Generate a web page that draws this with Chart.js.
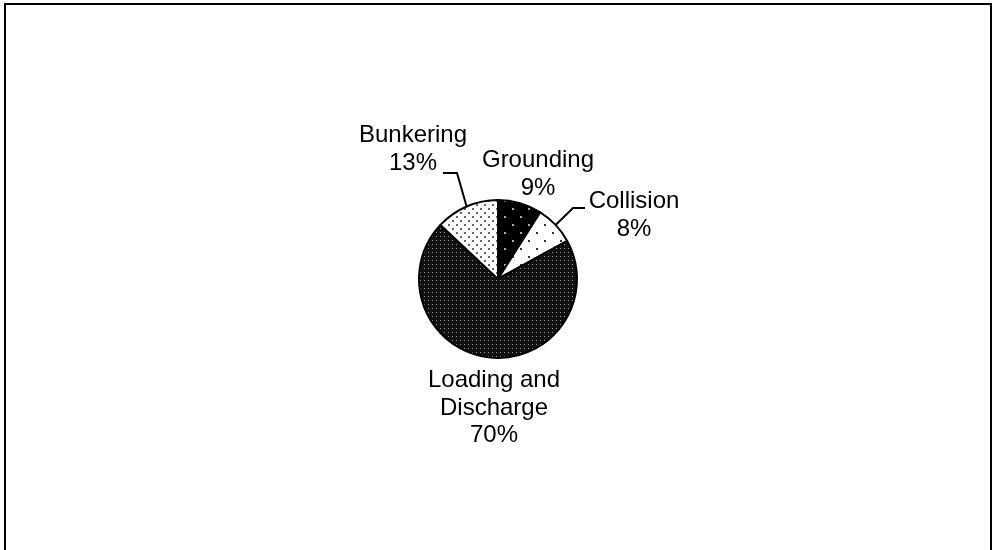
<!DOCTYPE html>
<html>
<head>
<meta charset="utf-8">
<script src="https://cdn.jsdelivr.net/npm/chart.js@4/dist/chart.umd.min.js"></script>
<style>
  html, body { margin: 0; padding: 0; background: #fff; }
  #wrap { position: relative; width: 995px; height: 550px; overflow: hidden; }
  #frame { position: absolute; left: 4px; top: 3px; width: 984px; height: 560px;
           border: 2px solid #000; border-bottom: none; box-sizing: content-box; }
  canvas { position: absolute; left: 0; top: 0; }
</style>
</head>
<body>
<div id="wrap">
  <div id="frame"></div>
  <canvas id="graph" width="995" height="550"></canvas>
</div>
<script>
// dados do gráfico (sentido horário a partir do topo)
const categorias = ['Grounding', 'Collision', 'Loading and Discharge', 'Bunkering'];
const valores = [9, 8, 70, 13];
// rótulos quebrados em linhas, como no original
const linhasRotulo = [['Grounding'], ['Collision'], ['Loading and', 'Discharge'], ['Bunkering']];

// padrões pontilhados para cada fatia
const criaPadrao = (fundo, ponto, passo, tam, desloca) => {
  const c = document.createElement('canvas');
  c.width = passo * 2; c.height = passo * 2;
  const g = c.getContext('2d');
  g.fillStyle = fundo;
  g.fillRect(0, 0, c.width, c.height);
  g.fillStyle = ponto;
  g.fillRect(0, 0, tam, tam);
  if (desloca) {
    g.fillRect(passo, passo, tam, tam);
  } else {
    g.fillRect(passo, 0, tam, tam);
    g.fillRect(0, passo, tam, tam);
    g.fillRect(passo, passo, tam, tam);
  }
  return g.createPattern(c, 'repeat');
};

const ctx = document.getElementById('graph').getContext('2d');

const padroes = [
  criaPadrao('#000', '#aaa', 8, 2, true),   // Grounding
  criaPadrao('#fff', '#333', 8, 2, true),   // Collision
  criaPadrao('#111', '#999', 4, 1, false),  // Loading and Discharge
  criaPadrao('#fff', '#666', 4, 2, true)    // Bunkering
];

// posição dos rótulos relativa ao centro da pizza, e linhas de chamada
const rotulos = [
  { dx: 40, dy: -112, guia: null },
  { dx: 136, dy: -71, guia: { x: 87, y: -71, x2: 75 } },
  { dx: -4, dy: 108, guia: null },
  { dx: -85, dy: -137, guia: { x: -55, y: -106, x2: -41 } }
];

const rotulosPlugin = {
  id: 'rotulos',
  afterDatasetsDraw(chart) {
    const c = chart.ctx;
    const meta = chart.getDatasetMeta(0);
    const total = valores.reduce((a, b) => a + b, 0);
    c.save();
    c.font = '24px "Liberation Sans", Arial, sans-serif';
    c.fillStyle = '#000';
    c.textAlign = 'center';
    c.textBaseline = 'alphabetic';
    meta.data.forEach((arc, i) => {
      const r = rotulos[i];
      const cx = arc.x, cy = arc.y;
      const linhas = linhasRotulo[i].concat([Math.round(valores[i] / total * 100) + '%']);
      linhas.forEach((t, k) => {
        c.fillText(t, cx + r.dx, cy + r.dy + k * 27.5);
      });
      if (r.guia) {
        const meio = (arc.startAngle + arc.endAngle) / 2;
        const ex = cx + Math.cos(meio) * arc.outerRadius;
        const ey = cy + Math.sin(meio) * arc.outerRadius;
        c.beginPath();
        c.strokeStyle = '#000';
        c.lineWidth = 2;
        c.moveTo(cx + r.guia.x, cy + r.guia.y);
        c.lineTo(cx + r.guia.x2, cy + r.guia.y);
        c.lineTo(ex, ey);
        c.stroke();
      }
    });
    c.restore();
  }
};

new Chart(ctx, {
  type: 'pie',
  data: {
    labels: categorias,
    datasets: [{
      data: valores,
      backgroundColor: padroes,
      borderColor: '#000',
      borderWidth: 2,
      hoverOffset: 0
    }]
  },
  options: {
    responsive: false,
    animation: false,
    events: [],
    layout: {
      padding: { left: 418, right: 417, top: 199, bottom: 191 }
    },
    plugins: {
      legend: { display: false },
      tooltip: { enabled: false },
      title: { display: false }
    }
  },
  plugins: [rotulosPlugin]
});
</script>
</body>
</html>
